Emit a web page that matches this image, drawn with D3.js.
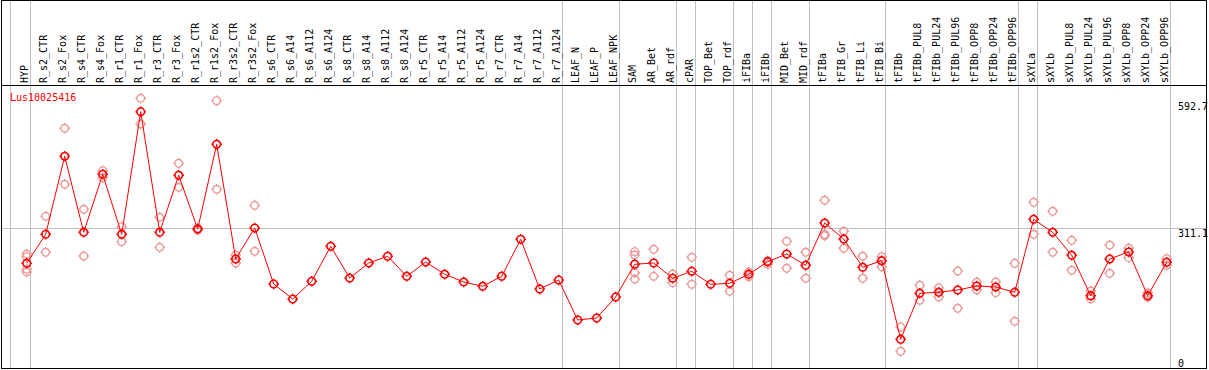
<!DOCTYPE html>
<html lang="en">
    <head>
        <meta charset="utf-8">
        <title>Lus10025416</title>
        <script type="text/javascript" src="https://cdnjs.cloudflare.com/ajax/libs/d3/7.8.5/d3.min.js"></script>
        <style type="text/css">
            body { margin: 0; background: #fff; }
            text { font-family: "DejaVu Sans Mono", monospace; }
        </style>
    </head>
    <body>
        <script type="text/javascript">
            var w = 1209;
            var h = 370;

            var samples = ["HYP","R_s2_CTR","R_s2_Fox","R_s4_CTR","R_s4_Fox","R_r1_CTR","R_r1_Fox","R_r3_CTR","R_r3_Fox",
                "R_r1s2_CTR","R_r1s2_Fox","R_r3s2_CTR","R_r3s2_Fox","R_s6_CTR","R_s6_A14","R_s6_A112","R_s6_A124",
                "R_s8_CTR","R_s8_A14","R_s8_A112","R_s8_A124","R_r5_CTR","R_r5_A14","R_r5_A112","R_r5_A124",
                "R_r7_CTR","R_r7_A14","R_r7_A112","R_r7_A124","LEAF_N","LEAF_P","LEAF_NPK","SAM","AR_Bet","AR_rdf",
                "cPAR","TOP_Bet","TOP_rdf","iFIBa","iFIBb","MID_Bet","MID_rdf","tFIBa","tFIB_Gr","tFIB_Li","tFIB_Bi",
                "tFIBb","tFIBb_PUL8","tFIBb_PUL24","tFIBb_PUL96","tFIBb_OPP8","tFIBb_OPP24","tFIBb_OPP96",
                "sXYLa","sXYLb","sXYLb_PUL8","sXYLb_PUL24","sXYLb_PUL96","sXYLb_OPP8","sXYLb_OPP24","sXYLb_OPP96"];

            // mean expression per sample
            var means = [233.3,297.9,471.7,302.4,431.6,297.9,571.1,302.4,429.4,309.7,498.5,242.9,312.0,
                187.2,153.7,193.2,271.2,200.5,234.0,248.9,204.3,236.2,208.8,191.6,182.0,204.3,286.8,176.0,196.1,
                107.0,111.4,158.2,231.1,234.0,199.9,215.5,186.5,188.7,208.8,236.9,254.0,228.8,
                323.1,287.4,224.4,239.1,64.0,166.4,168.7,173.8,182.7,180.5,168.7,
                331.3,302.4,251.1,161.1,242.9,258.5,161.1,235.5];

            // individual replicates
            var reps = [[254.0,248.0,219.9,213.9],[338.0,257.8],[534.1,409.3],[353.6,249.6],[439.6,424.0],
                [314.8,281.4],[601.0,543.7],[335.8,268.9],[456.1,402.6],[312.0,307.5],[595.6,398.2],
                [251.8,234.0],[362.5,260.0],
                [],[],[],[],[],[],[],[],[],[],[],[],[],[],[],[],[],[],[],
                [259.1,251.8,212.3,198.3],[264.5,204.3],[209.5,190.1],[246.7,186.5],[],[206.6,170.9],
                [213.9,203.4],[239.1,231.1],[282.3,222.2],[257.8,199.9],[373.7,297.9,294.8],[304.6,266.7],
                [249.0,199.9],[248.0,225.7],[91.4,37.2],[184.3,150.8],[178.9,158.2],[216.1,133.0],
                [191.6,173.8],[191.6,167.8],[233.3,104.1],[369.2,297.9],[349.2,257.8],[284.5,217.7],
                [171.6,154.4],[274.1,211.0],[267.4,245.8],[167.1,157.5],[243.5,228.8]];

            // group separators drawn after these samples
            var groupEnds = [0,28,31,34,35,37,38,39,41,45,52,53,60];
            var yTicks = [592.7, 311.1, 0];
            var geneName = "Lus10025416";

            var x = d3.scaleBand().domain(samples).range([11.5, 11.5 + 19 * samples.length]);
            var y = d3.scaleLinear().domain([0, 592.7]).range([368, 102]);
            function px(s) { return x(s) + 15.2; }

            // circle marker with small ticks on the four sides
            function marker(cx, cy) {
                var r = 3.8;
                return "M" + (cx - r) + "," + cy + "a" + r + "," + r + " 0 1,0 " + (2 * r) + ",0" +
                       "a" + r + "," + r + " 0 1,0 " + (-2 * r) + ",0" +
                       "M" + (cx - r - 1.5) + "," + cy + "h1.5" +
                       "M" + (cx + r) + "," + cy + "h1.5" +
                       "M" + cx + "," + (cy - r - 1.5) + "v1.5" +
                       "M" + cx + "," + (cy + r) + "v1.5";
            }

            var svg = d3.select("body")
                        .append("svg")
                        .attr("width", w)
                        .attr("height", h);

            // group lines
            svg.append("line")
               .attr("x1", 10.5).attr("x2", 10.5).attr("y1", 0).attr("y2", 369)
               .attr("stroke", "#c0c0c0");
            svg.selectAll("line.grp")
               .data(groupEnds)
               .enter()
               .append("line")
               .attr("class", "grp")
               .attr("x1", function (d) { return Math.round(x(samples[d]) + 19) - 0.5; })
               .attr("x2", function (d) { return Math.round(x(samples[d]) + 19) - 0.5; })
               .attr("y1", 0).attr("y2", 369)
               .attr("stroke", "#c0c0c0");

            // middle reference line
            svg.append("line")
               .attr("x1", 1).attr("x2", 1207)
               .attr("y1", Math.round(y(311.1)) + 0.5).attr("y2", Math.round(y(311.1)) + 0.5)
               .attr("stroke", "#c0c0c0");

            // borders
            svg.append("rect")
               .attr("x", 1.5).attr("y", 0.5).attr("width", 1205).attr("height", 368)
               .attr("fill", "none").attr("stroke", "black");
            svg.append("line")
               .attr("x1", 1).attr("x2", 1207).attr("y1", 85.5).attr("y2", 85.5)
               .attr("stroke", "black");

            // sample labels
            svg.selectAll("text.lab")
               .data(samples)
               .enter()
               .append("text")
               .attr("class", "lab")
               .attr("transform", function (d) { return "translate(" + (px(d) - 2.3) + ",83) rotate(-90)"; })
               .attr("dominant-baseline", "central")
               .attr("font-size", "10px")
               .attr("fill", "black")
               .text(function (d) { return d; });

            // axis values
            svg.selectAll("text.tick")
               .data(yTicks)
               .enter()
               .append("text")
               .attr("class", "tick")
               .attr("x", 1178)
               .attr("y", function (d) { return d === 0 ? y(d) - 1 : y(d) + 1; })
               .attr("dominant-baseline", function (d) { return d === 0 ? "auto" : "hanging"; })
               .attr("font-size", "10px")
               .attr("fill", "black")
               .text(function (d) { return d; });

            svg.append("text")
               .attr("x", 10).attr("y", 97)
               .attr("dominant-baseline", "central")
               .attr("font-size", "10px")
               .attr("fill", "red")
               .text(geneName);

            // replicate points
            var repPts = [];
            reps.forEach(function (r, i) {
                r.forEach(function (v) { repPts.push({ s: samples[i], v: v }); });
            });
            svg.selectAll("path.rep")
               .data(repPts)
               .enter()
               .append("path")
               .attr("class", "rep")
               .attr("d", function (d) { return marker(px(d.s), y(d.v)); })
               .attr("fill", "none")
               .attr("stroke", "#eb9a9a")
               .attr("stroke-width", 1.4);

            // mean line
            var line = d3.line()
                         .x(function (d, i) { return px(samples[i]); })
                         .y(function (d) { return y(d); });
            svg.append("path")
               .datum(means)
               .attr("d", line)
               .attr("fill", "none")
               .attr("stroke", "red")
               .attr("stroke-width", 1);

            svg.selectAll("path.mean")
               .data(means)
               .enter()
               .append("path")
               .attr("class", "mean")
               .attr("d", function (d, i) { return marker(px(samples[i]), y(d)); })
               .attr("fill", "none")
               .attr("stroke", "red")
               .attr("stroke-width", 1.6);
        </script>
    </body>
</html>
